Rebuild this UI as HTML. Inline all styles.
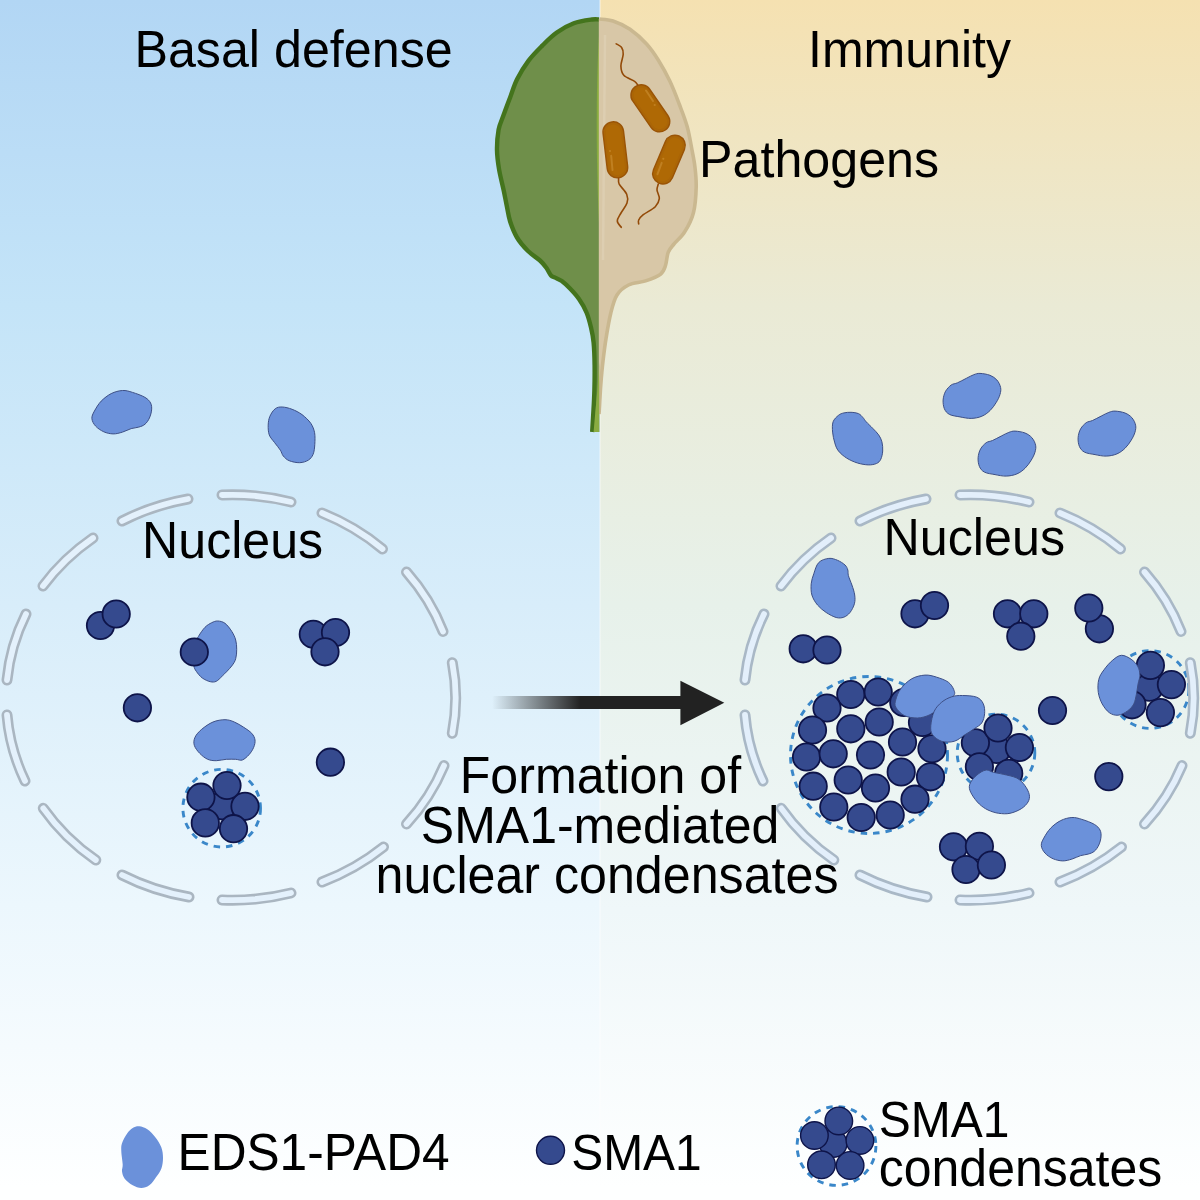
<!DOCTYPE html>
<html><head><meta charset="utf-8"><style>html,body{margin:0;padding:0;background:#fff;overflow:hidden;width:1200px;height:1200px;}svg{display:block;}</style></head>
<body><svg width="1200" height="1200" viewBox="0 0 1200 1200">
<defs>
<linearGradient id="bgL" x1="0" y1="0" x2="0" y2="1200" gradientUnits="userSpaceOnUse">
<stop offset="0" stop-color="#b2d6f4"/><stop offset="0.254" stop-color="#c4e4f8"/><stop offset="0.504" stop-color="#d8edfa"/><stop offset="0.754" stop-color="#ecf7fd"/><stop offset="0.99" stop-color="#feffff"/></linearGradient>
<linearGradient id="bgR" x1="0" y1="0" x2="0" y2="1200" gradientUnits="userSpaceOnUse">
<stop offset="0" stop-color="#f5e1b1"/><stop offset="0.254" stop-color="#eaead5"/><stop offset="0.504" stop-color="#e7f1ea"/><stop offset="0.758" stop-color="#eff7f9"/><stop offset="0.99" stop-color="#feffff"/></linearGradient>
<linearGradient id="arrG" x1="492" y1="0" x2="600" y2="0" gradientUnits="userSpaceOnUse">
<stop offset="0" stop-color="#222" stop-opacity="0"/><stop offset="0.82" stop-color="#222" stop-opacity="1"/></linearGradient>
</defs>
<rect x="0" y="0" width="600" height="1200" fill="url(#bgL)"/>
<rect x="600" y="0" width="600" height="1200" fill="url(#bgR)"/>
<rect x="599.3" y="0" width="1.4" height="1200" fill="#ffffff" opacity="0.45"/>

<path d="M599.0,19.5 C597.8,19.5 596.2,18.9 592.0,19.5 C587.8,20.1 579.7,21.1 573.8,23.3 C567.9,25.5 562.0,28.8 556.8,32.5 C551.5,36.2 547.0,40.9 542.3,45.6 C537.6,50.3 532.8,55.0 528.6,60.6 C524.4,66.2 520.3,72.9 517.2,79.0 C514.1,85.1 512.5,91.1 510.2,97.2 C507.9,103.3 505.2,110.4 503.3,115.8 C501.4,121.2 499.7,123.9 498.6,129.6 C497.6,135.3 496.9,143.4 497.0,150.0 C497.1,156.6 497.9,162.3 499.0,169.0 C500.1,175.7 502.3,184.0 503.6,190.0 C504.9,196.0 505.5,199.8 506.6,205.0 C507.7,210.2 508.3,215.6 510.0,221.0 C511.7,226.4 514.0,232.5 517.0,237.5 C520.0,242.5 524.2,247.2 528.0,251.0 C531.8,254.8 536.9,257.7 540.0,260.5 C543.1,263.3 544.7,265.5 546.5,268.0 C548.3,270.5 549.6,273.9 551.0,275.5 C552.4,277.1 553.2,276.7 555.0,277.6 C556.8,278.5 559.2,279.2 561.8,281.0 C564.2,282.8 567.1,285.5 570.0,288.5 C572.9,291.5 576.2,295.0 579.0,299.0 C581.8,303.0 584.5,307.8 586.5,312.5 C588.5,317.2 589.8,322.5 591.0,327.5 C592.2,332.5 593.0,336.2 593.6,342.5 C594.2,348.8 594.5,357.1 594.6,365.0 C594.7,372.9 594.6,382.5 594.4,390.0 C594.2,397.5 593.9,403.0 593.5,410.0 C593.1,417.0 592.4,428.3 592.2,432.0 L599.3,432 L599.3,19.5 Z" fill="#6f8f4a"/>
<path d="M599.2,33 C596.5,70 595.3,150 599.2,228 Z" fill="#8aad3f"/>
<path d="M599.0,19.5 C597.8,19.5 596.2,18.9 592.0,19.5 C587.8,20.1 579.7,21.1 573.8,23.3 C567.9,25.5 562.0,28.8 556.8,32.5 C551.5,36.2 547.0,40.9 542.3,45.6 C537.6,50.3 532.8,55.0 528.6,60.6 C524.4,66.2 520.3,72.9 517.2,79.0 C514.1,85.1 512.5,91.1 510.2,97.2 C507.9,103.3 505.2,110.4 503.3,115.8 C501.4,121.2 499.7,123.9 498.6,129.6 C497.6,135.3 496.9,143.4 497.0,150.0 C497.1,156.6 497.9,162.3 499.0,169.0 C500.1,175.7 502.3,184.0 503.6,190.0 C504.9,196.0 505.5,199.8 506.6,205.0 C507.7,210.2 508.3,215.6 510.0,221.0 C511.7,226.4 514.0,232.5 517.0,237.5 C520.0,242.5 524.2,247.2 528.0,251.0 C531.8,254.8 536.9,257.7 540.0,260.5 C543.1,263.3 544.7,265.5 546.5,268.0 C548.3,270.5 549.6,273.9 551.0,275.5 C552.4,277.1 553.2,276.7 555.0,277.6 C556.8,278.5 559.2,279.2 561.8,281.0 C564.2,282.8 567.1,285.5 570.0,288.5 C572.9,291.5 576.2,295.0 579.0,299.0 C581.8,303.0 584.5,307.8 586.5,312.5 C588.5,317.2 589.8,322.5 591.0,327.5 C592.2,332.5 593.0,336.2 593.6,342.5 C594.2,348.8 594.5,357.1 594.6,365.0 C594.7,372.9 594.6,382.5 594.4,390.0 C594.2,397.5 593.9,403.0 593.5,410.0 C593.1,417.0 592.4,428.3 592.2,432.0" fill="none" stroke="#44741d" stroke-width="4.4" stroke-linejoin="round"/>
<path d="M599.3,19.0 C601.6,19.3 607.9,19.3 613.0,21.0 C618.1,22.7 624.4,25.4 630.0,29.3 C635.6,33.2 642.1,39.1 646.8,44.2 C651.5,49.4 654.6,54.1 658.4,60.2 C662.2,66.3 666.3,73.7 669.8,81.0 C673.3,88.3 676.3,96.3 679.2,104.0 C682.1,111.7 685.2,119.3 687.3,127.0 C689.4,134.7 690.7,143.4 692.0,150.0 C693.3,156.6 694.2,160.6 694.9,166.7 C695.6,172.8 696.4,179.1 696.2,186.7 C696.0,194.3 695.4,205.0 693.5,212.5 C691.6,220.0 688.0,226.6 684.7,231.8 C681.5,237.1 676.8,240.6 674.0,244.0 C671.2,247.4 669.6,248.7 668.2,252.3 C666.8,255.9 666.8,261.8 665.5,265.5 C664.2,269.2 663.7,271.7 660.4,274.3 C657.1,276.9 650.9,279.1 645.6,280.9 C640.3,282.7 633.3,282.6 628.5,285.0 C623.7,287.4 620.0,290.3 617.0,295.0 C614.0,299.7 612.6,305.7 610.8,313.0 C609.0,320.3 607.3,330.6 606.0,338.6 C604.7,346.6 603.9,353.4 603.0,361.0 C602.1,368.6 601.4,376.7 600.8,384.5 C600.2,392.3 599.7,403.1 599.4,408.0 C599.1,412.9 599.1,413.0 599.0,414.0 L598.8,412 L598.8,19 Z" fill="#d8c7a7"/>
<path d="M599.3,19.0 C601.6,19.3 607.9,19.3 613.0,21.0 C618.1,22.7 624.4,25.4 630.0,29.3 C635.6,33.2 642.1,39.1 646.8,44.2 C651.5,49.4 654.6,54.1 658.4,60.2 C662.2,66.3 666.3,73.7 669.8,81.0 C673.3,88.3 676.3,96.3 679.2,104.0 C682.1,111.7 685.2,119.3 687.3,127.0 C689.4,134.7 690.7,143.4 692.0,150.0 C693.3,156.6 694.2,160.6 694.9,166.7 C695.6,172.8 696.4,179.1 696.2,186.7 C696.0,194.3 695.4,205.0 693.5,212.5 C691.6,220.0 688.0,226.6 684.7,231.8 C681.5,237.1 676.8,240.6 674.0,244.0 C671.2,247.4 669.6,248.7 668.2,252.3 C666.8,255.9 666.8,261.8 665.5,265.5 C664.2,269.2 663.7,271.7 660.4,274.3 C657.1,276.9 650.9,279.1 645.6,280.9 C640.3,282.7 633.3,282.6 628.5,285.0 C623.7,287.4 620.0,290.3 617.0,295.0 C614.0,299.7 612.6,305.7 610.8,313.0 C609.0,320.3 607.3,330.6 606.0,338.6 C604.7,346.6 603.9,353.4 603.0,361.0 C602.1,368.6 601.4,376.7 600.8,384.5 C600.2,392.3 599.7,403.1 599.4,408.0 C599.1,412.9 599.1,413.0 599.0,414.0" fill="none" stroke="#cab890" stroke-width="3.6" stroke-linejoin="round"/>
<path d="M599.2,362 C598.5,380 596.5,400 593.6,432 L599.2,432 Z" fill="#8aac42"/>
<path d="M605,35 C604,100 603.5,180 603,260" fill="none" stroke="#e2d6bb" stroke-width="2.5" opacity="0.5"/>
<g transform="translate(650.4,108.3) rotate(55.4)"><rect x="-26.3" y="-10.2" width="52.6" height="20.5" rx="10.2" fill="#af6905" stroke="#9a5406" stroke-width="1.5"/><rect x="-24.5" y="-8.4" width="49.0" height="16.9" rx="8.4" fill="none" stroke="#a66208" stroke-width="1.6" opacity="0.6"/></g>
<g transform="translate(615.4,149.8) rotate(83.3)"><rect x="-28.1" y="-10.2" width="56.2" height="20.5" rx="10.2" fill="#af6905" stroke="#9a5406" stroke-width="1.5"/><rect x="-26.3" y="-8.4" width="52.6" height="16.9" rx="8.4" fill="none" stroke="#a66208" stroke-width="1.6" opacity="0.6"/></g>
<g transform="translate(669.0,159.6) rotate(113.0)"><rect x="-25.6" y="-10.2" width="51.2" height="20.5" rx="10.2" fill="#af6905" stroke="#9a5406" stroke-width="1.5"/><rect x="-23.8" y="-8.4" width="47.6" height="16.9" rx="8.4" fill="none" stroke="#a66208" stroke-width="1.6" opacity="0.6"/></g>
<line x1="646.0" y1="90.5" x2="653.0" y2="101.0" stroke="#c58628" stroke-width="2" stroke-linecap="round" opacity="0.8"/>
<circle cx="654.7" cy="105.0" r="1.1" fill="#c58628" opacity="0.8"/>
<line x1="611.2" y1="155.8" x2="612.5" y2="170.0" stroke="#c58628" stroke-width="2" stroke-linecap="round" opacity="0.8"/>
<circle cx="610.0" cy="151.0" r="1.1" fill="#c58628" opacity="0.8"/>
<line x1="661.7" y1="162.9" x2="657.5" y2="174.2" stroke="#c58628" stroke-width="2" stroke-linecap="round" opacity="0.8"/>
<circle cx="663.3" cy="158.8" r="1.1" fill="#c58628" opacity="0.8"/>
<path d="M637.5,84.6 C637.0,84.0 636.6,82.6 634.3,81.1 C632.0,79.5 626.0,77.8 623.8,75.3 C621.6,72.8 621.0,69.5 620.9,66.0 C620.8,62.5 623.1,57.4 623.2,54.3 C623.3,51.2 622.7,49.0 621.5,47.3 C620.3,45.5 617.1,44.4 616.2,43.8" fill="none" stroke="#934a08" stroke-width="1.6" stroke-linecap="round"/>
<path d="M618.6,178.5 C618.7,179.4 617.9,181.6 619.2,184.2 C620.6,186.8 625.4,191.1 626.7,194.2 C628.0,197.3 628.0,199.9 627.0,203.0 C626.0,206.1 622.6,210.0 621.0,213.0 C619.4,216.0 617.2,218.6 617.3,221.0 C617.3,223.4 620.6,226.2 621.3,227.3" fill="none" stroke="#934a08" stroke-width="1.6" stroke-linecap="round"/>
<path d="M658.3,184.0 C658.1,185.0 656.8,187.6 657.0,190.0 C657.2,192.4 659.6,195.9 659.3,198.7 C659.0,201.5 658.0,204.0 655.3,206.7 C652.6,209.4 646.1,212.5 643.3,214.7 C640.5,216.9 639.5,218.4 638.7,220.0 C637.9,221.6 638.7,223.3 638.7,224.0" fill="none" stroke="#934a08" stroke-width="1.6" stroke-linecap="round"/>
<path d="M222.0,495.0 A222,203 0 0 1 291.0,502.0 M322.0,513.0 A222,203 0 0 1 382.5,549.0 M406.5,572.0 A222,203 0 0 1 443.0,631.5 M452.3,662.7 A222,203 0 0 1 452.3,733.3 M444.0,765.6 A222,203 0 0 1 406.5,824.0 M383.5,847.0 A222,203 0 0 1 322.0,882.0 M291.0,893.0 A222,203 0 0 1 222.0,900.0 M189.0,897.0 A222,203 0 0 1 122.0,875.0 M95.8,860.0 A222,203 0 0 1 43.3,808.3 M25.0,781.0 A222,203 0 0 1 7.0,715.0 M7.0,680.0 A222,203 0 0 1 26.0,614.0 M43.0,586.0 A222,203 0 0 1 93.0,538.0 M122.0,521.0 A222,203 0 0 1 188.0,499.0 " fill="none" stroke="#aab6c1" stroke-width="11" stroke-linecap="round"/><path d="M222.0,495.0 A222,203 0 0 1 291.0,502.0 M322.0,513.0 A222,203 0 0 1 382.5,549.0 M406.5,572.0 A222,203 0 0 1 443.0,631.5 M452.3,662.7 A222,203 0 0 1 452.3,733.3 M444.0,765.6 A222,203 0 0 1 406.5,824.0 M383.5,847.0 A222,203 0 0 1 322.0,882.0 M291.0,893.0 A222,203 0 0 1 222.0,900.0 M189.0,897.0 A222,203 0 0 1 122.0,875.0 M95.8,860.0 A222,203 0 0 1 43.3,808.3 M25.0,781.0 A222,203 0 0 1 7.0,715.0 M7.0,680.0 A222,203 0 0 1 26.0,614.0 M43.0,586.0 A222,203 0 0 1 93.0,538.0 M122.0,521.0 A222,203 0 0 1 188.0,499.0 " fill="none" stroke="#e4f1fc" stroke-width="5.8" stroke-linecap="round"/>
<path d="M122.5,390.5 C126.0,390.3 128.8,391.2 132.5,392.4 C136.2,393.5 142.0,395.6 145.0,397.4 C148.0,399.2 149.5,400.9 150.6,403.0 C151.7,405.1 151.8,407.4 151.6,409.9 C151.4,412.4 150.5,415.6 149.4,418.0 C148.3,420.4 146.8,422.7 145.0,424.2 C143.2,425.8 141.0,426.4 138.8,427.1 C136.5,427.8 134.0,427.8 131.2,428.6 C128.5,429.4 125.5,431.2 122.5,432.1 C119.5,433.0 116.2,434.0 113.1,433.9 C110.0,433.8 106.7,433.1 103.8,431.8 C100.8,430.4 97.6,428.3 95.6,426.1 C93.6,423.9 92.1,421.1 91.9,418.6 C91.7,416.1 92.8,414.0 94.4,411.1 C96.0,408.2 98.4,404.0 101.2,401.1 C104.1,398.2 107.7,395.4 111.2,393.6 C114.8,391.8 119.0,390.7 122.5,390.5Z" fill="#6b91da" stroke="#3d4f86" stroke-width="1"/>
<path d="M282.2,407.0 C285.0,407.1 288.8,408.0 292.1,409.3 C295.4,410.6 298.9,412.3 302.0,414.6 C305.1,416.9 308.7,420.3 310.8,423.3 C312.8,426.3 313.9,429.2 314.6,432.7 C315.2,436.2 315.0,440.7 314.8,444.3 C314.6,447.9 314.2,451.7 313.1,454.3 C312.0,456.9 310.6,458.7 308.4,460.1 C306.2,461.5 302.9,462.6 299.7,462.7 C296.5,462.8 291.9,461.8 289.2,460.7 C286.5,459.6 284.8,457.8 283.3,456.0 C281.8,454.2 281.8,452.4 280.4,450.2 C278.9,448.0 276.5,445.1 274.6,442.6 C272.8,440.1 270.4,437.9 269.3,435.0 C268.2,432.1 268.1,428.2 268.2,425.1 C268.3,422.0 268.7,419.0 269.9,416.3 C271.1,413.6 273.1,410.3 275.2,408.8 C277.2,407.2 279.4,406.9 282.2,407.0Z" fill="#6b91da" stroke="#3d4f86" stroke-width="1"/>
<path d="M217.7,621.0 C219.9,621.1 222.7,621.6 225.0,623.3 C227.3,625.0 229.9,628.5 231.7,631.3 C233.5,634.1 234.9,637.0 235.7,640.0 C236.5,643.0 236.7,646.2 236.7,649.3 C236.7,652.4 236.5,655.9 235.7,658.7 C234.9,661.5 233.9,663.1 231.7,666.0 C229.5,668.9 224.9,673.5 222.3,676.0 C219.7,678.5 218.3,680.3 216.3,681.3 C214.3,682.2 212.6,682.2 210.3,681.7 C208.0,681.2 204.6,679.7 202.3,678.0 C200.0,676.3 197.7,673.4 196.3,671.3 C194.9,669.2 194.4,668.8 193.7,665.3 C193.0,661.8 191.2,654.8 192.0,650.0 C192.8,645.2 196.1,640.5 198.3,636.7 C200.5,632.9 202.8,629.6 205.0,627.3 C207.2,625.0 209.6,623.8 211.7,622.7 C213.8,621.7 215.5,620.9 217.7,621.0Z" fill="#6b91da" stroke="#3d4f86" stroke-width="1"/>
<path d="M225.0,719.7 C228.6,719.7 231.2,720.7 234.3,722.0 C237.4,723.3 240.8,725.4 243.7,727.3 C246.6,729.2 249.8,731.2 251.7,733.3 C253.6,735.4 254.7,737.7 255.0,740.0 C255.3,742.3 254.7,744.8 253.7,747.3 C252.7,749.8 250.9,752.6 249.0,754.7 C247.1,756.8 244.5,759.2 242.3,760.0 C240.1,760.8 238.4,759.4 235.7,759.3 C233.0,759.2 229.5,759.1 226.3,759.3 C223.1,759.5 219.4,760.7 216.3,760.7 C213.2,760.7 210.5,760.5 207.7,759.3 C204.9,758.1 201.9,755.6 199.7,753.3 C197.5,751.0 195.1,748.0 194.3,745.3 C193.5,742.6 193.8,740.0 195.0,737.3 C196.2,734.6 198.7,731.8 201.7,729.3 C204.7,726.8 209.1,723.6 213.0,722.0 C216.9,720.4 221.4,719.7 225.0,719.7Z" fill="#6b91da" stroke="#3d4f86" stroke-width="1"/>
<circle cx="100.5" cy="625.5" r="13.7" fill="#354a8e" stroke="#0e1449" stroke-width="1.8"/>
<circle cx="116.2" cy="614.0" r="13.7" fill="#354a8e" stroke="#0e1449" stroke-width="1.8"/>
<circle cx="194.3" cy="652.0" r="13.7" fill="#354a8e" stroke="#0e1449" stroke-width="1.8"/>
<circle cx="313.3" cy="634.3" r="13.7" fill="#354a8e" stroke="#0e1449" stroke-width="1.8"/>
<circle cx="335.5" cy="632.5" r="13.7" fill="#354a8e" stroke="#0e1449" stroke-width="1.8"/>
<circle cx="325.0" cy="651.8" r="13.7" fill="#354a8e" stroke="#0e1449" stroke-width="1.8"/>
<circle cx="137.4" cy="707.8" r="13.7" fill="#354a8e" stroke="#0e1449" stroke-width="1.8"/>
<circle cx="330.4" cy="762.2" r="13.7" fill="#354a8e" stroke="#0e1449" stroke-width="1.8"/>
<circle cx="221.7" cy="808.2" r="38.8" fill="none" stroke="#3a87c9" stroke-width="2.9" stroke-dasharray="6.5 6"/>
<circle cx="222.3" cy="805.8" r="13.7" fill="#354a8e" stroke="#0e1449" stroke-width="1.8"/>
<circle cx="200.9" cy="797.2" r="13.7" fill="#354a8e" stroke="#0e1449" stroke-width="1.8"/>
<circle cx="245.0" cy="806.3" r="13.7" fill="#354a8e" stroke="#0e1449" stroke-width="1.8"/>
<circle cx="227.0" cy="785.5" r="13.7" fill="#354a8e" stroke="#0e1449" stroke-width="1.8"/>
<circle cx="205.3" cy="822.9" r="13.7" fill="#354a8e" stroke="#0e1449" stroke-width="1.8"/>
<circle cx="233.5" cy="828.7" r="13.7" fill="#354a8e" stroke="#0e1449" stroke-width="1.8"/>
<path d="M851.0,412.3 C853.4,412.4 856.6,412.8 858.6,413.7 C860.6,414.6 861.6,416.1 862.9,417.5 C864.2,418.9 864.6,420.0 866.2,421.8 C867.8,423.6 870.6,426.1 872.7,428.3 C874.8,430.5 877.1,432.6 878.6,434.8 C880.1,437.1 881.2,439.1 881.9,441.8 C882.6,444.5 882.9,448.1 882.7,451.0 C882.5,453.9 881.8,457.1 880.8,459.2 C879.8,461.3 878.6,462.6 876.5,463.5 C874.4,464.4 871.5,465.0 868.3,464.9 C865.1,464.8 861.1,464.1 857.5,463.0 C853.9,461.9 849.9,460.1 846.7,458.1 C843.5,456.1 840.5,453.5 838.5,451.0 C836.5,448.5 835.7,446.0 834.8,442.9 C833.8,439.8 832.9,435.6 832.6,432.1 C832.3,428.6 832.1,424.6 833.1,421.8 C834.1,419.0 836.7,416.8 838.5,415.3 C840.3,413.8 841.9,413.4 844.0,412.9 C846.1,412.4 848.6,412.2 851.0,412.3Z" fill="#6b91da" stroke="#3d4f86" stroke-width="1"/>
<path d="M980.0,373.4 C982.7,373.5 987.2,374.2 990.0,375.3 C992.8,376.4 995.1,378.0 996.9,380.0 C998.7,382.0 1000.1,385.1 1000.6,387.5 C1001.1,389.9 1000.7,391.9 1000.0,394.4 C999.3,396.9 997.9,399.8 996.2,402.5 C994.6,405.2 992.4,408.3 990.0,410.6 C987.6,412.9 985.0,414.9 981.9,416.2 C978.8,417.6 974.9,418.3 971.2,418.4 C967.6,418.5 963.6,417.6 960.0,416.9 C956.4,416.2 952.0,415.8 949.4,414.4 C946.8,413.0 945.4,411.1 944.4,408.8 C943.4,406.4 942.9,402.9 943.1,400.0 C943.3,397.1 944.2,393.8 945.6,391.2 C947.0,388.8 949.3,386.4 951.2,385.0 C953.2,383.6 955.0,383.9 957.5,382.8 C960.0,381.7 963.5,379.8 966.2,378.4 C969.0,377.0 971.5,375.5 973.8,374.7 C976.0,373.9 977.3,373.3 980.0,373.4Z" fill="#6b91da" stroke="#3d4f86" stroke-width="1"/>
<path d="M1015.0,431.1 C1017.7,431.2 1022.2,431.9 1025.0,433.0 C1027.8,434.1 1030.1,435.7 1031.9,437.7 C1033.7,439.7 1035.1,442.8 1035.6,445.2 C1036.1,447.6 1035.7,449.6 1035.0,452.1 C1034.3,454.6 1032.9,457.5 1031.2,460.2 C1029.6,462.9 1027.4,466.0 1025.0,468.3 C1022.6,470.6 1020.0,472.6 1016.9,473.9 C1013.8,475.2 1009.9,476.0 1006.2,476.1 C1002.6,476.2 998.6,475.3 995.0,474.6 C991.4,473.9 987.0,473.5 984.4,472.1 C981.8,470.7 980.4,468.8 979.4,466.4 C978.4,464.1 977.9,460.6 978.1,457.7 C978.3,454.8 979.2,451.4 980.6,448.9 C982.0,446.4 984.3,444.1 986.2,442.7 C988.2,441.3 990.0,441.6 992.5,440.5 C995.0,439.4 998.5,437.4 1001.2,436.1 C1004.0,434.7 1006.5,433.2 1008.8,432.4 C1011.0,431.6 1012.3,431.0 1015.0,431.1Z" fill="#6b91da" stroke="#3d4f86" stroke-width="1"/>
<path d="M1115.0,411.1 C1117.7,411.2 1122.2,411.9 1125.0,413.0 C1127.8,414.1 1130.1,415.7 1131.9,417.7 C1133.7,419.7 1135.1,422.8 1135.6,425.2 C1136.1,427.6 1135.7,429.6 1135.0,432.1 C1134.3,434.6 1132.9,437.5 1131.2,440.2 C1129.6,442.9 1127.4,446.0 1125.0,448.3 C1122.6,450.6 1120.0,452.6 1116.9,453.9 C1113.8,455.2 1109.9,456.0 1106.2,456.1 C1102.6,456.2 1098.6,455.3 1095.0,454.6 C1091.4,453.9 1087.0,453.5 1084.4,452.1 C1081.8,450.7 1080.5,448.8 1079.4,446.4 C1078.4,444.1 1077.9,440.6 1078.1,437.7 C1078.3,434.8 1079.2,431.4 1080.6,428.9 C1082.0,426.4 1084.3,424.1 1086.2,422.7 C1088.2,421.3 1090.0,421.6 1092.5,420.5 C1095.0,419.4 1098.5,417.4 1101.2,416.1 C1104.0,414.7 1106.5,413.2 1108.8,412.4 C1111.0,411.6 1112.3,411.0 1115.0,411.1Z" fill="#6b91da" stroke="#3d4f86" stroke-width="1"/>
<path d="M828.8,558.4 C831.9,558.0 834.8,559.2 837.5,560.3 C840.2,561.4 843.3,563.4 845.0,565.0 C846.7,566.6 847.2,568.2 847.8,570.0 C848.4,571.8 847.7,573.1 848.4,575.6 C849.1,578.1 850.8,581.8 851.9,585.0 C853.0,588.2 854.3,591.9 854.7,595.0 C855.1,598.1 855.2,600.8 854.4,603.8 C853.6,606.7 851.8,610.3 850.0,612.5 C848.2,614.7 846.0,616.4 843.8,617.2 C841.5,618.0 839.2,618.3 836.2,617.5 C833.3,616.7 829.4,614.6 826.2,612.5 C823.1,610.4 819.9,607.9 817.5,605.0 C815.1,602.1 812.9,598.5 811.9,595.0 C810.9,591.5 810.9,587.3 811.2,583.8 C811.6,580.2 812.5,577.3 813.8,573.8 C815.0,570.2 816.2,565.1 818.8,562.5 C821.2,559.9 825.6,558.8 828.8,558.4Z" fill="#6b91da" stroke="#3d4f86" stroke-width="1"/>
<circle cx="803.2" cy="648.8" r="13.7" fill="#354a8e" stroke="#0e1449" stroke-width="1.8"/>
<circle cx="827.0" cy="650.0" r="13.7" fill="#354a8e" stroke="#0e1449" stroke-width="1.8"/>
<circle cx="915.0" cy="613.8" r="13.7" fill="#354a8e" stroke="#0e1449" stroke-width="1.8"/>
<circle cx="934.5" cy="605.5" r="13.7" fill="#354a8e" stroke="#0e1449" stroke-width="1.8"/>
<circle cx="1007.5" cy="613.8" r="13.7" fill="#354a8e" stroke="#0e1449" stroke-width="1.8"/>
<circle cx="1033.8" cy="613.8" r="13.7" fill="#354a8e" stroke="#0e1449" stroke-width="1.8"/>
<circle cx="1020.8" cy="636.2" r="13.7" fill="#354a8e" stroke="#0e1449" stroke-width="1.8"/>
<circle cx="1099.4" cy="628.8" r="13.7" fill="#354a8e" stroke="#0e1449" stroke-width="1.8"/>
<circle cx="1088.8" cy="608.0" r="13.7" fill="#354a8e" stroke="#0e1449" stroke-width="1.8"/>
<circle cx="1052.5" cy="710.5" r="13.7" fill="#354a8e" stroke="#0e1449" stroke-width="1.8"/>
<circle cx="1108.8" cy="776.6" r="13.7" fill="#354a8e" stroke="#0e1449" stroke-width="1.8"/>
<circle cx="953.5" cy="846.8" r="13.7" fill="#354a8e" stroke="#0e1449" stroke-width="1.8"/>
<circle cx="979.4" cy="846.3" r="13.7" fill="#354a8e" stroke="#0e1449" stroke-width="1.8"/>
<circle cx="966.0" cy="869.5" r="13.7" fill="#354a8e" stroke="#0e1449" stroke-width="1.8"/>
<circle cx="991.4" cy="865.0" r="13.7" fill="#354a8e" stroke="#0e1449" stroke-width="1.8"/>
<circle cx="869.0" cy="755.0" r="78.5" fill="none" stroke="#3a87c9" stroke-width="2.9" stroke-dasharray="6.5 6"/>
<circle cx="850.8" cy="694.5" r="13.7" fill="#354a8e" stroke="#0e1449" stroke-width="1.8"/>
<circle cx="878.2" cy="692.0" r="13.7" fill="#354a8e" stroke="#0e1449" stroke-width="1.8"/>
<circle cx="903.8" cy="702.5" r="13.7" fill="#354a8e" stroke="#0e1449" stroke-width="1.8"/>
<circle cx="827.0" cy="708.0" r="13.7" fill="#354a8e" stroke="#0e1449" stroke-width="1.8"/>
<circle cx="812.5" cy="730.0" r="13.7" fill="#354a8e" stroke="#0e1449" stroke-width="1.8"/>
<circle cx="850.8" cy="728.8" r="13.7" fill="#354a8e" stroke="#0e1449" stroke-width="1.8"/>
<circle cx="879.2" cy="722.0" r="13.7" fill="#354a8e" stroke="#0e1449" stroke-width="1.8"/>
<circle cx="922.5" cy="722.5" r="13.7" fill="#354a8e" stroke="#0e1449" stroke-width="1.8"/>
<circle cx="902.5" cy="742.0" r="13.7" fill="#354a8e" stroke="#0e1449" stroke-width="1.8"/>
<circle cx="932.0" cy="748.8" r="13.7" fill="#354a8e" stroke="#0e1449" stroke-width="1.8"/>
<circle cx="806.5" cy="757.0" r="13.7" fill="#354a8e" stroke="#0e1449" stroke-width="1.8"/>
<circle cx="833.2" cy="753.8" r="13.7" fill="#354a8e" stroke="#0e1449" stroke-width="1.8"/>
<circle cx="870.5" cy="755.0" r="13.7" fill="#354a8e" stroke="#0e1449" stroke-width="1.8"/>
<circle cx="901.2" cy="772.0" r="13.7" fill="#354a8e" stroke="#0e1449" stroke-width="1.8"/>
<circle cx="930.5" cy="776.8" r="13.7" fill="#354a8e" stroke="#0e1449" stroke-width="1.8"/>
<circle cx="813.2" cy="786.2" r="13.7" fill="#354a8e" stroke="#0e1449" stroke-width="1.8"/>
<circle cx="848.2" cy="780.0" r="13.7" fill="#354a8e" stroke="#0e1449" stroke-width="1.8"/>
<circle cx="875.5" cy="788.0" r="13.7" fill="#354a8e" stroke="#0e1449" stroke-width="1.8"/>
<circle cx="915.0" cy="799.2" r="13.7" fill="#354a8e" stroke="#0e1449" stroke-width="1.8"/>
<circle cx="833.8" cy="807.0" r="13.7" fill="#354a8e" stroke="#0e1449" stroke-width="1.8"/>
<circle cx="861.2" cy="817.5" r="13.7" fill="#354a8e" stroke="#0e1449" stroke-width="1.8"/>
<circle cx="890.2" cy="815.0" r="13.7" fill="#354a8e" stroke="#0e1449" stroke-width="1.8"/>
<path d="M925.0,675.1 C929.2,674.8 932.8,676.0 936.7,677.2 C940.6,678.4 945.5,680.1 948.3,682.2 C951.1,684.3 952.9,687.4 953.8,689.7 C954.6,692.1 955.6,693.4 953.3,696.3 C951.0,699.2 943.9,703.9 940.0,707.0 C936.1,710.1 933.8,712.9 930.0,714.7 C926.2,716.5 921.8,717.9 917.5,718.0 C913.2,718.1 907.8,717.3 904.2,715.5 C900.6,713.7 897.2,709.8 895.8,707.2 C894.4,704.6 895.0,702.8 895.8,699.7 C896.6,696.6 898.1,692.3 900.8,688.8 C903.4,685.3 907.7,681.1 911.7,678.8 C915.7,676.5 920.8,675.4 925.0,675.1Z" fill="#6b91da" stroke="#3d4f86" stroke-width="1"/>
<circle cx="996.0" cy="753.0" r="38.8" fill="none" stroke="#3a87c9" stroke-width="2.9" stroke-dasharray="6.5 6"/>
<circle cx="996.7" cy="749.4" r="13.7" fill="#354a8e" stroke="#0e1449" stroke-width="1.8"/>
<circle cx="975.4" cy="742.8" r="13.7" fill="#354a8e" stroke="#0e1449" stroke-width="1.8"/>
<circle cx="998.0" cy="728.0" r="13.7" fill="#354a8e" stroke="#0e1449" stroke-width="1.8"/>
<circle cx="1019.4" cy="747.5" r="13.7" fill="#354a8e" stroke="#0e1449" stroke-width="1.8"/>
<circle cx="979.4" cy="766.8" r="13.7" fill="#354a8e" stroke="#0e1449" stroke-width="1.8"/>
<circle cx="1008.7" cy="773.4" r="13.7" fill="#354a8e" stroke="#0e1449" stroke-width="1.8"/>
<path d="M962.5,695.5 C966.7,695.6 973.2,695.8 976.7,697.2 C980.2,698.6 982.0,701.0 983.3,703.8 C984.6,706.6 984.9,710.6 984.6,713.8 C984.3,717.0 983.4,720.5 981.7,723.0 C980.0,725.5 977.0,726.8 974.2,728.8 C971.4,730.8 968.3,732.6 965.0,734.7 C961.7,736.8 958.1,740.2 954.2,741.3 C950.3,742.4 945.3,742.4 941.7,741.3 C938.1,740.2 934.3,737.3 932.5,734.7 C930.7,732.1 930.5,729.4 930.8,725.5 C931.1,721.6 932.4,715.2 934.2,711.3 C936.0,707.4 938.8,704.6 941.7,702.2 C944.6,699.8 948.2,697.9 951.7,696.8 C955.2,695.6 958.3,695.4 962.5,695.5Z" fill="#6b91da" stroke="#3d4f86" stroke-width="1"/>
<path d="M986.7,770.0 C988.9,769.9 990.5,771.6 993.3,772.3 C996.1,773.0 999.4,773.3 1003.3,774.3 C1007.2,775.2 1013.1,776.2 1016.7,778.0 C1020.3,779.8 1022.6,782.5 1024.7,785.3 C1026.8,788.1 1028.8,791.9 1029.3,794.7 C1029.8,797.5 1029.3,799.7 1028.0,802.0 C1026.7,804.3 1024.3,806.8 1021.3,808.7 C1018.3,810.6 1013.8,812.5 1010.0,813.3 C1006.2,814.1 1002.4,813.8 998.7,813.3 C995.0,812.8 991.2,811.5 988.0,810.0 C984.8,808.5 982.0,806.5 979.3,804.0 C976.6,801.5 973.7,797.6 972.0,794.7 C970.3,791.8 969.2,789.3 969.3,786.7 C969.4,784.1 970.9,781.6 972.7,779.3 C974.5,777.0 977.7,774.2 980.0,772.7 C982.3,771.2 984.5,770.1 986.7,770.0Z" fill="#6b91da" stroke="#3d4f86" stroke-width="1"/>
<circle cx="1150.0" cy="689.5" r="38.9" fill="none" stroke="#3a87c9" stroke-width="2.9" stroke-dasharray="6.5 6"/>
<circle cx="1149.5" cy="687.2" r="13.7" fill="#354a8e" stroke="#0e1449" stroke-width="1.8"/>
<circle cx="1150.4" cy="665.4" r="13.7" fill="#354a8e" stroke="#0e1449" stroke-width="1.8"/>
<circle cx="1171.4" cy="684.6" r="13.7" fill="#354a8e" stroke="#0e1449" stroke-width="1.8"/>
<circle cx="1132.0" cy="704.8" r="13.7" fill="#354a8e" stroke="#0e1449" stroke-width="1.8"/>
<circle cx="1160.4" cy="712.6" r="13.7" fill="#354a8e" stroke="#0e1449" stroke-width="1.8"/>
<path d="M1121.5,655.3 C1124.6,655.2 1128.4,657.4 1131.1,659.2 C1133.8,661.1 1136.2,663.6 1137.7,666.2 C1139.2,668.9 1139.8,672.1 1139.9,675.0 C1140.0,677.9 1138.7,680.5 1138.1,683.8 C1137.5,687.0 1137.1,690.9 1136.4,694.2 C1135.7,697.6 1135.2,701.1 1133.8,703.9 C1132.3,706.7 1130.2,709.0 1127.6,710.9 C1125.0,712.8 1121.1,715.0 1118.0,715.2 C1114.9,715.5 1111.9,714.5 1109.2,712.6 C1106.6,710.7 1104.1,707.2 1102.2,703.9 C1100.4,700.5 1098.9,696.6 1098.3,692.5 C1097.7,688.4 1097.8,683.2 1098.8,679.4 C1099.7,675.6 1101.7,673.0 1104.0,669.8 C1106.3,666.5 1109.8,662.5 1112.8,660.1 C1115.7,657.7 1118.4,655.4 1121.5,655.3Z" fill="#6b91da" stroke="#3d4f86" stroke-width="1"/>
<path d="M1071.9,817.5 C1075.4,817.3 1078.2,818.2 1081.9,819.4 C1085.7,820.5 1091.4,822.6 1094.4,824.4 C1097.4,826.2 1098.9,827.9 1100.0,830.0 C1101.1,832.1 1101.2,834.4 1101.0,836.9 C1100.8,839.4 1099.9,842.6 1098.8,845.0 C1097.7,847.4 1096.2,849.7 1094.4,851.2 C1092.6,852.8 1090.4,853.4 1088.2,854.1 C1085.9,854.8 1083.4,854.8 1080.7,855.6 C1077.9,856.4 1074.9,858.2 1071.9,859.1 C1068.9,860.0 1065.6,861.0 1062.5,860.9 C1059.4,860.8 1056.1,860.0 1053.2,858.8 C1050.2,857.5 1047.0,855.3 1045.0,853.1 C1043.0,850.9 1041.5,848.1 1041.3,845.6 C1041.1,843.1 1042.2,841.0 1043.8,838.1 C1045.4,835.2 1047.8,831.0 1050.7,828.1 C1053.5,825.2 1057.1,822.4 1060.7,820.6 C1064.2,818.8 1068.4,817.7 1071.9,817.5Z" fill="#6b91da" stroke="#3d4f86" stroke-width="1"/>
<path d="M960.0,495.0 A222,203 0 0 1 1029.0,502.0 M1060.0,513.0 A222,203 0 0 1 1120.5,549.0 M1144.5,572.0 A222,203 0 0 1 1181.0,631.5 M1190.3,662.7 A222,203 0 0 1 1190.3,733.3 M1182.0,765.6 A222,203 0 0 1 1144.5,824.0 M1121.5,847.0 A222,203 0 0 1 1060.0,882.0 M1029.0,893.0 A222,203 0 0 1 960.0,900.0 M927.0,897.0 A222,203 0 0 1 860.0,875.0 M833.8,860.0 A222,203 0 0 1 781.3,808.3 M763.0,781.0 A222,203 0 0 1 745.0,715.0 M745.0,680.0 A222,203 0 0 1 764.0,614.0 M781.0,586.0 A222,203 0 0 1 831.0,538.0 M860.0,521.0 A222,203 0 0 1 926.0,499.0 " fill="none" stroke="#a9b8c6" stroke-width="11" stroke-linecap="round"/><path d="M960.0,495.0 A222,203 0 0 1 1029.0,502.0 M1060.0,513.0 A222,203 0 0 1 1120.5,549.0 M1144.5,572.0 A222,203 0 0 1 1181.0,631.5 M1190.3,662.7 A222,203 0 0 1 1190.3,733.3 M1182.0,765.6 A222,203 0 0 1 1144.5,824.0 M1121.5,847.0 A222,203 0 0 1 1060.0,882.0 M1029.0,893.0 A222,203 0 0 1 960.0,900.0 M927.0,897.0 A222,203 0 0 1 860.0,875.0 M833.8,860.0 A222,203 0 0 1 781.3,808.3 M763.0,781.0 A222,203 0 0 1 745.0,715.0 M745.0,680.0 A222,203 0 0 1 764.0,614.0 M781.0,586.0 A222,203 0 0 1 831.0,538.0 M860.0,521.0 A222,203 0 0 1 926.0,499.0 " fill="none" stroke="#e3effb" stroke-width="5.8" stroke-linecap="round"/>
<path d="M492.5,696 L680.4,696 L680.4,680.7 L724.3,702.75 L680.4,725.25 L680.4,709 L492.5,709 Z" fill="url(#arrG)"/>
<path d="M139.3,1126.3 C141.7,1126.5 144.6,1127.5 147.3,1129.3 C150.0,1131.1 153.0,1134.3 155.3,1137.3 C157.6,1140.3 160.0,1143.8 161.3,1147.3 C162.6,1150.8 163.0,1154.4 163.0,1158.0 C163.0,1161.6 162.5,1165.5 161.3,1168.7 C160.1,1171.9 158.0,1174.5 156.0,1177.3 C154.0,1180.1 151.8,1183.5 149.3,1185.3 C146.9,1187.1 144.1,1188.0 141.3,1188.0 C138.5,1188.0 135.5,1186.8 132.7,1185.3 C129.9,1183.8 126.5,1181.0 124.7,1178.7 C122.9,1176.4 122.3,1173.6 122.0,1171.3 C121.7,1169.0 122.8,1168.0 122.7,1164.7 C122.6,1161.4 121.4,1154.9 121.3,1151.3 C121.2,1147.7 121.0,1146.3 122.0,1143.3 C123.0,1140.3 125.5,1135.8 127.3,1133.3 C129.1,1130.8 130.7,1129.2 132.7,1128.0 C134.7,1126.8 136.9,1126.1 139.3,1126.3Z" fill="#6b91da"/>
<circle cx="550.5" cy="1150.3" r="14.0" fill="#354a8e" stroke="#0e1449" stroke-width="1.4"/>
<circle cx="836.5" cy="1146.0" r="39.4" fill="none" stroke="#3a87c9" stroke-width="2.9" stroke-dasharray="6.5 6"/>
<circle cx="833.2" cy="1143.6" r="13.8" fill="#354a8e" stroke="#0e1449" stroke-width="1.4"/>
<circle cx="814.4" cy="1135.5" r="13.8" fill="#354a8e" stroke="#0e1449" stroke-width="1.4"/>
<circle cx="838.8" cy="1120.9" r="13.8" fill="#354a8e" stroke="#0e1449" stroke-width="1.4"/>
<circle cx="859.9" cy="1140.4" r="13.8" fill="#354a8e" stroke="#0e1449" stroke-width="1.4"/>
<circle cx="821.5" cy="1164.8" r="13.8" fill="#354a8e" stroke="#0e1449" stroke-width="1.4"/>
<circle cx="850.1" cy="1165.4" r="13.8" fill="#354a8e" stroke="#0e1449" stroke-width="1.4"/>
<g style='font-family:"Liberation Sans",sans-serif' fill="#000">
<text transform="translate(134.38,67.25) scale(1,1.045)" font-size="50.24">Basal defense</text>
<text transform="translate(807.99,67.25) scale(1,1.045)" font-size="50.08">Immunity</text>
<text transform="translate(699.08,176.60) scale(1,1.045)" font-size="50.20">Pathogens</text>
<text transform="translate(142.09,557.50) scale(1,1.045)" font-size="50.14">Nucleus</text>
<text transform="translate(883.48,555.00) scale(1,1.045)" font-size="50.26">Nucleus</text>
<text transform="translate(459.74,793.00) scale(1,1.045)" font-size="50.14">Formation of</text>
<text transform="translate(420.85,842.70) scale(1,1.045)" font-size="50.01">SMA1-mediated</text>
<text transform="translate(375.49,892.50) scale(1,1.045)" font-size="50.18">nuclear condensates</text>
<text transform="translate(177.53,1170.00) scale(1,1.045)" font-size="49.64">EDS1-PAD4</text>
<text transform="translate(571.14,1169.70) scale(1,1.045)" font-size="47.96">SMA1</text>
<text transform="translate(878.84,1137.10) scale(1,1.045)" font-size="48.00">SMA1</text>
<text transform="translate(878.75,1185.90) scale(1,1.045)" font-size="50.00">condensates</text>
</g>
</svg></body></html>
